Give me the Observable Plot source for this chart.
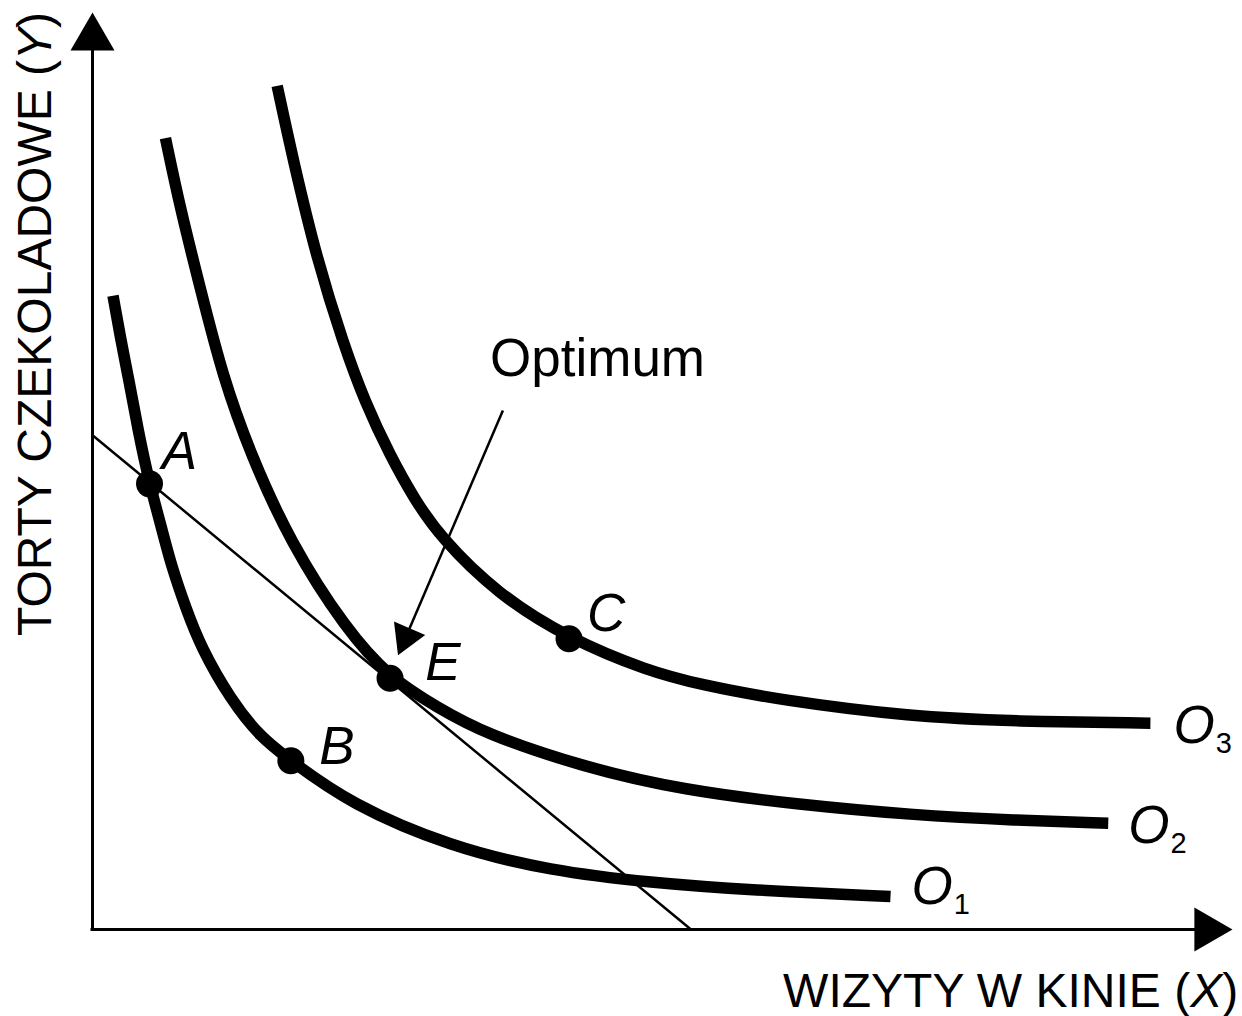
<!DOCTYPE html>
<html>
<head>
<meta charset="utf-8">
<script src="https://cdn.jsdelivr.net/npm/d3@7"></script>
<script src="https://cdn.jsdelivr.net/npm/@observablehq/plot@0.6"></script>
<style>
  html, body { margin: 0; padding: 0; background: #fff; }
  #chart { width: 1242px; height: 1016px; overflow: hidden; }
  #chart svg { display: block; }
</style>
</head>
<body>
<div id="chart"></div>
<script>
// ---------- data ----------
const curveNames = ["O1", "O2", "O3"];

const o1X = [0.18, 0.25, 0.32, 0.40, 0.50, 0.60, 0.69, 0.82, 0.95, 1.21, 1.47, 1.74, 2.26, 3.14, 4.02, 4.90, 5.77, 7.00];
const o1Y = [6.91, 6.42, 5.99, 5.44, 4.86, 4.41, 3.97, 3.50, 3.08, 2.51, 2.10, 1.84, 1.37, 0.90, 0.64, 0.51, 0.43, 0.36];

const o2X = [0.64, 0.77, 0.95, 1.14, 1.39, 1.74, 2.22, 2.61, 3.03, 3.43, 4.31, 5.18, 6.21, 7.18, 8.10, 8.91];
const o2Y = [8.63, 7.86, 6.97, 6.04, 5.17, 4.21, 3.28, 2.74, 2.42, 2.14, 1.77, 1.52, 1.36, 1.25, 1.19, 1.16];

const o3X = [1.62, 1.76, 1.97, 2.20, 2.39, 2.61, 2.82, 3.05, 3.55, 4.18, 4.87, 5.33, 6.04, 7.18, 8.10, 9.28];
const o3Y = [9.20, 8.39, 7.30, 6.39, 5.75, 5.17, 4.70, 4.28, 3.66, 3.17, 2.82, 2.67, 2.50, 2.32, 2.27, 2.25];

const pointLabels = ["A", "B", "C", "E"];
const pointX = [0.50, 1.74, 4.18, 2.61];
const pointY = [4.86, 1.84, 3.17, 2.74];

// budget line intercepts
const budgetXIntercept = 5.25;
const budgetYIntercept = 5.39;

const optimumLabel = "Optimum";
const optimumLabelAt = [4.43, 6.22];
const optimumArrowFrom = [3.60, 5.66];
const optimumArrowTo = [2.68, 2.99];

const xTitle = "WIZYTY W KINIE (X)";
const yTitle = "TORTY CZEKOLADOWE (Y)";
const xTitleAt = [10.05, -0.68];
const yTitleAt = [-0.50, 3.20];

// ---------- layout ----------
const W = 1242, H = 1016;
const mL = 92, mR = 10, mT = 12, mB = 87;
const FONT = "'Liberation Sans', Arial, Helvetica, sans-serif";
const px = v => mL + v / 10 * (W - mL - mR);
const py = v => (H - mB) - v / 10 * (H - mT - mB);
const ix = p => (p - mL) / (W - mL - mR) * 10;
const iy = p => ((H - mB) - p) / (H - mT - mB) * 10;

const pointLabelOffset = { A: [30, -32], B: [46, -14], C: [37, -25], E: [53, -15] };
const curveLabelOffset = { O1: [21, -9], O2: [20, 3], O3: [23, 3] };

// ---------- tables ----------
const curveXs = [o1X, o2X, o3X];
const curveYs = [o1Y, o2Y, o3Y];
const curveRows = curveNames.flatMap((name, i) =>
  curveXs[i].map((x, j) => ({ curve: name, x, y: curveYs[i][j] })));
const curveEnds = curveNames.map((name, i) => ({
  curve: name, x: curveXs[i][curveXs[i].length - 1], y: curveYs[i][curveYs[i].length - 1]
}));
const points = pointLabels.map((label, i) => ({ label, x: pointX[i], y: pointY[i] }));
const budget = [{ x: 0, y: budgetYIntercept }, { x: budgetXIntercept, y: 0 }];

// triangle helpers (equilateral)
function triangle(side) {
  const area = Math.sqrt(3) / 4 * side * side;
  const h = side * Math.sqrt(3) / 2;
  return { r: Math.sqrt(area / Math.PI), centroid: h * 2 / 3, h };
}
const axisHead = triangle(44);
const optHead = triangle(34);

// optimum arrow geometry in pixels
const ax0 = px(optimumArrowFrom[0]), ay0 = py(optimumArrowFrom[1]);
const ax1 = px(optimumArrowTo[0]), ay1 = py(optimumArrowTo[1]);
const alen = Math.hypot(ax1 - ax0, ay1 - ay0);
const ux = (ax1 - ax0) / alen, uy = (ay1 - ay0) / alen;
const optRotate = Math.atan2(ux, -uy) * 180 / Math.PI;
const linkEnd = { x: ix(ax1 - ux * (optHead.h - 3)), y: iy(ay1 - uy * (optHead.h - 3)) };

const marks = [
  // axes
  Plot.ruleX([0], { y1: 10, y2: 0, stroke: "black", strokeWidth: 3, insetTop: axisHead.h - 2, strokeLinecap: "square" }),
  Plot.ruleY([0], { x1: 0, x2: 10, stroke: "black", strokeWidth: 3, insetRight: axisHead.h - 2, strokeLinecap: "square" }),
  Plot.dot([{ x: 0, y: 10 }], { x: "x", y: "y", symbol: "triangle", r: axisHead.r, fill: "black", stroke: "none", dy: axisHead.centroid }),
  Plot.dot([{ x: 10, y: 0 }], { x: "x", y: "y", symbol: "triangle", r: axisHead.r, fill: "black", stroke: "none", rotate: 90, dx: -axisHead.centroid }),

  // budget line
  Plot.line(budget, { x: "x", y: "y", stroke: "black", strokeWidth: 2.5 }),

  // indifference curves
  Plot.line(curveRows, { x: "x", y: "y", z: "curve", curve: "basis", stroke: "black",
    strokeWidth: 11.5, strokeLinecap: "butt", strokeLinejoin: "round" }),

  // points
  Plot.dot(points, { x: "x", y: "y", r: 13.5, fill: "black", stroke: "none" }),

  // optimum arrow
  Plot.link([{}], { x1: () => optimumArrowFrom[0], y1: () => optimumArrowFrom[1],
    x2: () => linkEnd.x, y2: () => linkEnd.y, stroke: "black", strokeWidth: 2.5 }),
  Plot.dot([{ x: optimumArrowTo[0], y: optimumArrowTo[1] }], { x: "x", y: "y", symbol: "triangle",
    r: optHead.r, fill: "black", stroke: "none", rotate: optRotate,
    dx: -ux * optHead.centroid, dy: -uy * optHead.centroid }),
  Plot.text([{ x: optimumLabelAt[0], y: optimumLabelAt[1] }], { x: "x", y: "y", text: () => optimumLabel,
    fontSize: 53, textAnchor: "middle", lineAnchor: "middle", fill: "black" }),

  // point labels
  ...points.map(p => Plot.text([p], { x: "x", y: "y", text: "label", fontSize: 53, fontStyle: "italic",
    textAnchor: "middle", lineAnchor: "middle", fill: "black",
    dx: pointLabelOffset[p.label][0], dy: pointLabelOffset[p.label][1] })),

  // curve labels
  ...curveEnds.map(c => Plot.text([c], { x: "x", y: "y", text: "curve", fontSize: 53,
    textAnchor: "start", lineAnchor: "middle", fill: "black",
    dx: curveLabelOffset[c.curve][0], dy: curveLabelOffset[c.curve][1] })),

  // axis titles
  Plot.text([{ x: xTitleAt[0], y: xTitleAt[1] }], { x: "x", y: "y", text: () => xTitle, fontSize: 48,
    textAnchor: "end", lineAnchor: "middle", fill: "black" }),
  Plot.text([{ x: yTitleAt[0], y: yTitleAt[1] }], { x: "x", y: "y", text: () => yTitle, fontSize: 48,
    textAnchor: "start", lineAnchor: "middle", rotate: -90, fill: "black" })
];

const svg = Plot.plot({
  width: W, height: H,
  marginLeft: mL, marginRight: mR, marginTop: mT, marginBottom: mB,
  x: { domain: [0, 10], axis: null },
  y: { domain: [0, 10], axis: null },
  style: { fontFamily: FONT, background: "white", color: "black", overflow: "visible" },
  marks
});

// ---------- rich text (italic variables, subscripts) ----------
const NS = "http://www.w3.org/2000/svg";
function tspan(text, attrs = {}) {
  const t = document.createElementNS(NS, "tspan");
  for (const [k, v] of Object.entries(attrs)) t.setAttribute(k, v);
  t.textContent = text;
  return t;
}
svg.querySelectorAll("text").forEach(t => {
  const s = t.textContent;
  if (s === xTitle || s === yTitle) {
    const m = s.match(/^(.*\()(.)(\))$/);
    t.textContent = "";
    t.appendChild(document.createTextNode(m[1]));
    t.appendChild(tspan(m[2], { "font-style": "italic" }));
    t.appendChild(document.createTextNode(m[3]));
  } else if (curveNames.includes(s)) {
    t.textContent = "";
    t.appendChild(tspan(s[0], { "font-style": "italic" }));
    t.appendChild(tspan(s.slice(1), { "font-size": 29, "font-style": "normal", dx: 1, dy: 10 }));
  }
});

document.getElementById("chart").appendChild(svg);
</script>
</body>
</html>
